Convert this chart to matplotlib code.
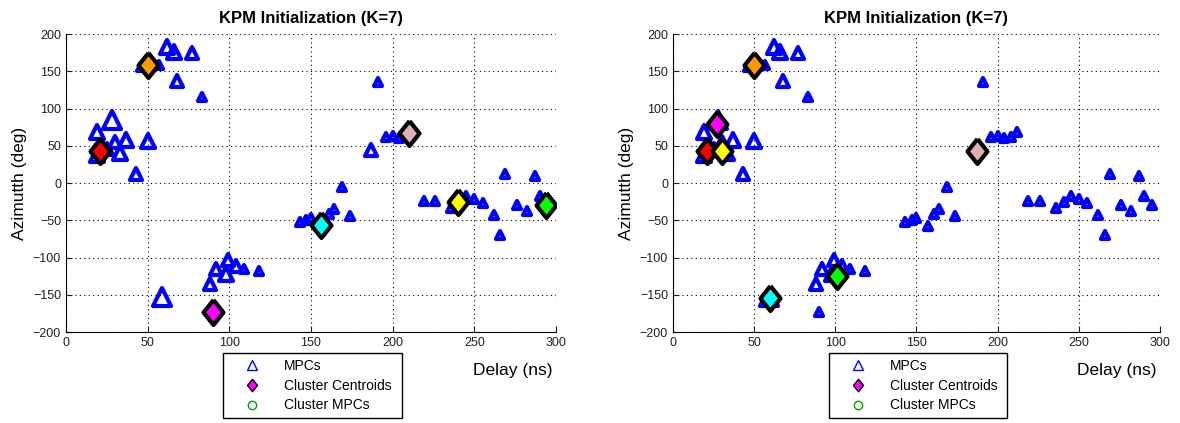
import matplotlib.pyplot as plt
from matplotlib.lines import Line2D
from matplotlib.markers import MarkerStyle

plt.rcParams['font.family'] = ['Liberation Sans', 'DejaVu Sans']

# multipath components: delay (ns), azimuth (deg), relative power class (1 small .. 4 large)
mpc_delay = [62, 66, 77, 46, 57, 50, 68, 83,
             28, 19, 37, 50, 33, 19, 25, 43, 30,
             191, 196, 200, 204, 208, 212, 187,
             269, 287, 169,
             143, 147, 150, 157, 161, 164, 174,
             219, 226, 236, 241, 245, 250, 255, 262, 266, 276, 282, 290, 295,
             59, 88, 92, 99, 98, 104, 109, 118, 90]
mpc_azimuth = [182, 176, 175, 156, 158, 160, 137, 115,
               85, 68, 58, 56, 40, 38, 45, 12, 55,
               136, 62, 63, 61, 62, 68, 44,
               12, 10, -5,
               -53, -50, -47, -58, -41, -35, -44,
               -24, -24, -33, -26, -18, -22, -27, -43, -70, -30, -37, -17, -29,
               -153, -135, -115, -103, -122, -112, -115, -118, -173]
mpc_power = [3, 3, 2, 1, 1, 2, 2, 1,
             4, 3, 3, 3, 3, 3, 2, 2, 2,
             1, 1, 1, 1, 1, 1, 2,
             1, 1, 1,
             1, 1, 1, 1, 1, 1, 1,
             1, 1, 1, 1, 1, 1, 1, 1, 1, 1, 1, 1, 1,
             4, 2, 2, 2, 3, 2, 1, 1, 1]

# centroids, panel 1 and panel 2
cent_colors = ['red', 'orange', 'magenta', 'cyan', 'pink', 'yellow', 'lime']
cent1_delay = [21, 50, 90, 156, 210, 240, 294]
cent1_azimuth = [43, 159, -173, -57, 67, -26, -29]
cent2_colors = ['red', 'magenta', 'yellow', 'orange', 'cyan', 'lime', 'pink']
cent2_delay = [21, 27, 30, 50, 60, 101, 187]
cent2_azimuth = [43, 79, 43, 159, -155, -125, 43]

color_map = {'red': '#ff0000', 'orange': '#ff9900', 'magenta': '#ff00ff',
             'cyan': '#00ffff', 'pink': '#e0b0b0', 'yellow': '#ffff00', 'lime': '#00ff00'}

diamond = [(0, 1), (0.8, 0), (0, -1), (-0.8, 0), (0, 1)]
tri = MarkerStyle('^', joinstyle='round')
size_of = {1: 5.5, 2: 8, 3: 10.5, 4: 13}


def draw_panel(ax, c_delay, c_azimuth, c_names):
    for x, y, p in zip(mpc_delay, mpc_azimuth, mpc_power):
        ax.plot(x, y, marker=tri, ls='none', ms=size_of[p], mfc='none', mec='#0000ff',
                mew=3, zorder=3)
    for x, y, c in zip(c_delay, c_azimuth, c_names):
        ax.plot(x, y, marker=MarkerStyle(diamond, joinstyle='round'), ms=18,
                mfc=color_map[c], mec='black', mew=3, linestyle='none', zorder=5)
    ax.set_xlim(0, 300)
    ax.set_ylim(-200, 200)
    ax.set_xticks(range(0, 301, 50))
    ax.set_yticks(range(-200, 201, 50))
    ax.grid(True, linestyle=(0, (1, 3)), color='black', linewidth=0.8)
    ax.spines['top'].set_visible(False)
    ax.spines['right'].set_visible(False)
    ax.tick_params(direction='in', length=4, labelsize=9, colors='#202020')
    ax.set_title('KPM Initialization (K=7)', fontsize=12, fontweight='bold', pad=8)
    ax.set_ylabel('Azimutth (deg)', fontsize=12.5)
    ax.text(0.912, -0.128, 'Delay (ns)', transform=ax.transAxes, fontsize=12.5,
            ha='center', va='center')
    handles = [
        Line2D([], [], marker='^', ls='none', mfc='none', mec='#0000ff', ms=7, mew=1),
        Line2D([], [], marker=diamond, ls='none', mfc='#ff00ff', mec='black', ms=9, mew=1),
        Line2D([], [], marker='o', ls='none', mfc='none', mec='#00a000', ms=6, mew=1),
    ]
    leg = ax.legend(handles, ['MPCs', 'Cluster Centroids', 'Cluster MPCs'],
                    loc='upper left', bbox_to_anchor=(0.32, -0.07, 0.366, 0.0),
                    mode='expand', borderaxespad=0, fancybox=False, edgecolor='black',
                    framealpha=1, fontsize=10, handlelength=3.4, handletextpad=0.6,
                    labelspacing=0.42, borderpad=0.42)
    leg.get_frame().set_linewidth(1)


fig = plt.figure(figsize=(11.8, 4.23), dpi=100)
ax1 = fig.add_axes([0.0559, 0.2151, 0.4153, 0.7045])
ax2 = fig.add_axes([0.5703, 0.2151, 0.4127, 0.7045])
draw_panel(ax1, cent1_delay, cent1_azimuth, cent_colors)
draw_panel(ax2, cent2_delay, cent2_azimuth, cent2_colors)

fig.savefig('out.png', dpi=100)
